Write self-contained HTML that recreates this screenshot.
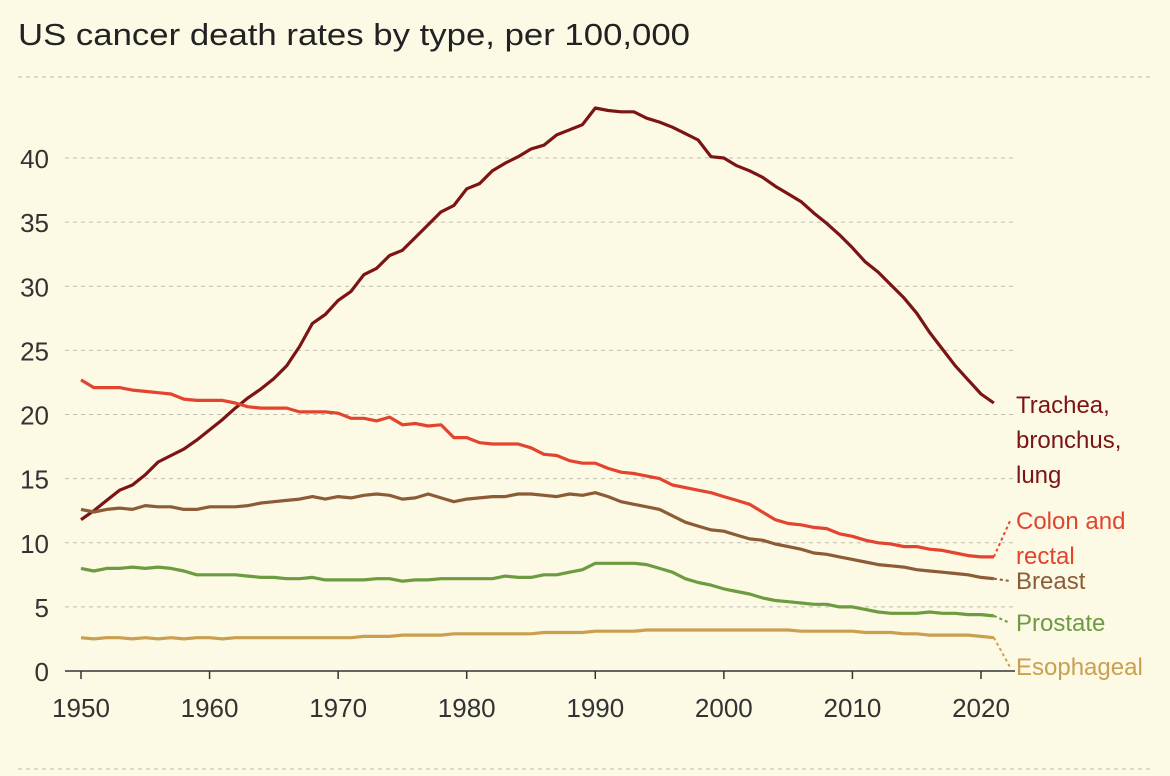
<!DOCTYPE html>
<html><head><meta charset="utf-8"><style>
body{margin:0;background:#fcf9e5;}
svg{display:block;font-family:"Liberation Sans",sans-serif;}
</style></head><body>
<svg id="c" width="1170" height="776">
<rect width="1170" height="776" fill="#fcf9e5"/>
<text x="18" y="45" font-size="31" textLength="672" lengthAdjust="spacingAndGlyphs" fill="#222">US cancer death rates by type, per 100,000</text>
<line x1="18" x2="1152" y1="77" y2="77" stroke="#bbb" stroke-dasharray="4,4"/>
<line x1="18" x2="1152" y1="769" y2="769" stroke="#bbb" stroke-dasharray="4,4"/>
<g id="grid"></g><g id="lines"></g><g id="labels"></g>
</svg>
<script>
const years=[];for(let y=1950;y<=2021;y++)years.push(y);
const yTicks=[0,5,10,15,20,25,30,35,40];
const xTicks=[1950,1960,1970,1980,1990,2000,2010,2020];
const lung=[11.8,12.5,13.3,14.1,14.5,15.3,16.3,16.8,17.3,18.0,18.8,19.6,20.5,21.3,22.0,22.8,23.8,25.3,27.1,27.8,28.9,29.6,30.9,31.4,32.4,32.8,33.8,34.8,35.8,36.3,37.6,38.0,39.0,39.6,40.1,40.7,41.0,41.8,42.2,42.6,43.9,43.7,43.6,43.6,43.1,42.8,42.4,41.9,41.4,40.1,40.0,39.4,39.0,38.5,37.8,37.2,36.6,35.7,34.9,34.0,33.0,31.9,31.1,30.1,29.1,27.9,26.4,25.1,23.8,22.7,21.6,20.9];
const colon=[22.7,22.1,22.1,22.1,21.9,21.8,21.7,21.6,21.2,21.1,21.1,21.1,20.9,20.6,20.5,20.5,20.5,20.2,20.2,20.2,20.1,19.7,19.7,19.5,19.8,19.2,19.3,19.1,19.2,18.2,18.2,17.8,17.7,17.7,17.7,17.4,16.9,16.8,16.4,16.2,16.2,15.8,15.5,15.4,15.2,15.0,14.5,14.3,14.1,13.9,13.6,13.3,13.0,12.4,11.8,11.5,11.4,11.2,11.1,10.7,10.5,10.2,10.0,9.9,9.7,9.7,9.5,9.4,9.2,9.0,8.9,8.9];
const breast=[12.6,12.4,12.6,12.7,12.6,12.9,12.8,12.8,12.6,12.6,12.8,12.8,12.8,12.9,13.1,13.2,13.3,13.4,13.6,13.4,13.6,13.5,13.7,13.8,13.7,13.4,13.5,13.8,13.5,13.2,13.4,13.5,13.6,13.6,13.8,13.8,13.7,13.6,13.8,13.7,13.9,13.6,13.2,13.0,12.8,12.6,12.1,11.6,11.3,11.0,10.9,10.6,10.3,10.2,9.9,9.7,9.5,9.2,9.1,8.9,8.7,8.5,8.3,8.2,8.1,7.9,7.8,7.7,7.6,7.5,7.3,7.2];
const prostate=[8.0,7.8,8.0,8.0,8.1,8.0,8.1,8.0,7.8,7.5,7.5,7.5,7.5,7.4,7.3,7.3,7.2,7.2,7.3,7.1,7.1,7.1,7.1,7.2,7.2,7.0,7.1,7.1,7.2,7.2,7.2,7.2,7.2,7.4,7.3,7.3,7.5,7.5,7.7,7.9,8.4,8.4,8.4,8.4,8.3,8.0,7.7,7.2,6.9,6.7,6.4,6.2,6.0,5.7,5.5,5.4,5.3,5.2,5.2,5.0,5.0,4.8,4.6,4.5,4.5,4.5,4.6,4.5,4.5,4.4,4.4,4.3];
const esoph=[2.6,2.5,2.6,2.6,2.5,2.6,2.5,2.6,2.5,2.6,2.6,2.5,2.6,2.6,2.6,2.6,2.6,2.6,2.6,2.6,2.6,2.6,2.7,2.7,2.7,2.8,2.8,2.8,2.8,2.9,2.9,2.9,2.9,2.9,2.9,2.9,3.0,3.0,3.0,3.0,3.1,3.1,3.1,3.1,3.2,3.2,3.2,3.2,3.2,3.2,3.2,3.2,3.2,3.2,3.2,3.2,3.1,3.1,3.1,3.1,3.1,3.0,3.0,3.0,2.9,2.9,2.8,2.8,2.8,2.8,2.7,2.6];
const series=[
 {name:'lung',data:lung,color:'#7b1414',label:['Trachea,','bronchus,','lung'],ly:413},
 {name:'colon',data:colon,color:'#e2442f',label:['Colon and','rectal'],ly:529},
 {name:'breast',data:breast,color:'#8c5c36',label:['Breast'],ly:589},
 {name:'prostate',data:prostate,color:'#6c9b40',label:['Prostate'],ly:631},
 {name:'esophageal',data:esoph,color:'#caa050',label:['Esophageal'],ly:675}
];
const X=y=>81+(y-1950)*900/70;
const Y=v=>671-v*513/40;
const NS='http://www.w3.org/2000/svg';
function mk(t,a,p){const e=document.createElementNS(NS,t);for(const k in a)e.setAttribute(k,a[k]);p.appendChild(e);return e;}
const g=document.getElementById('grid');
yTicks.forEach(v=>{
 if(v>0){const l=mk('line',{x1:65,x2:1015,y1:Y(v),y2:Y(v),stroke:'#bdbdb0','stroke-dasharray':'4,4'},g);
 
 }
 const t=mk('text',{x:49,y:Y(v)+10,'text-anchor':'end','font-size':26,fill:'#333'},g);t.textContent=v;
 
 
});
const ax=mk('line',{x1:65,x2:1015,y1:671,y2:671,stroke:'#333','stroke-width':1.5},g);


xTicks.forEach(v=>{
 const tk=mk('line',{x1:X(v),x2:X(v),y1:671,y2:679,stroke:'#333','stroke-width':1.5},g);
 
 
 const t=mk('text',{x:X(v),y:717,'text-anchor':'middle','font-size':26,fill:'#333'},g);t.textContent=v;
 
 
});
const L=document.getElementById('lines'),Lb=document.getElementById('labels');
series.forEach(s=>{
 const pts=s.data.map((v,i)=>X(years[i])+','+Y(v).toFixed(1)).join(' ');
 const p=mk('polyline',{points:pts,fill:'none',stroke:s.color,'stroke-width':3.2,'stroke-linejoin':'round'},L);
 
 
 const last=s.data[s.data.length-1],lx=X(2021),lyv=Y(last);
 if(s.name!=='lung'){
  const d=mk('line',{x1:lx,y1:lyv,x2:1010,y2:s.ly-8,stroke:s.color,'stroke-width':2,'stroke-dasharray':'3,3'},L);
  
  
 }
 const t=mk('text',{x:1016,y:s.ly,'font-size':24,fill:s.color},Lb);
 
 
 s.label.forEach((ln,i)=>{const ts=mk('tspan',{x:1016,dy:i?35:0},t);ts.textContent=ln;});
});
</script>
</body></html>
